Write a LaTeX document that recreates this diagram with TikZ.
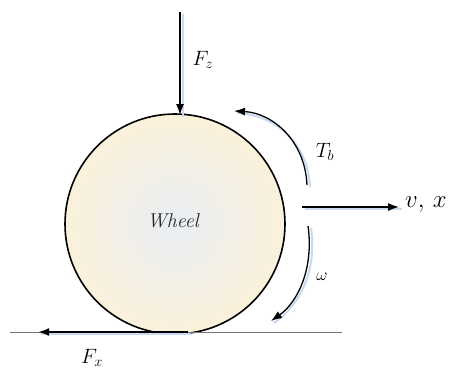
\documentclass[tikz,border=0pt]{standalone}
\usepackage{amsmath,amssymb}
\usepackage{xcolor}
\usetikzlibrary{arrows.meta,positioning}
\definecolor{wheelrim}{HTML}{FAF1DA}
\definecolor{wheelhub}{HTML}{E9EDF3}
\definecolor{glowblue}{HTML}{C9DAF0}
\definecolor{groundgray}{HTML}{777777}

\begin{document}
\begin{tikzpicture}[
  x=1pt,y=-1pt,
  wheelbody/.style={circle,draw,line width=1.6pt,minimum size=220pt,inner sep=0pt,
    inner color=wheelhub,outer color=wheelrim},
  force/.style={-{Latex[length=11pt,width=8pt]},line width=1.3pt,
    preaction={draw=glowblue,-,line width=2pt,transform canvas={shift={(3pt,-2pt)}}}},
  tag/.style={inner sep=1pt,font=\fontsize{21}{25}\selectfont}
]
\useasboundingbox (0,0) rectangle (451,370);
\node[wheelbody] (wheel) at (175,224) {};
\node[font=\fontsize{20}{23}\selectfont\itshape,text=black!85] (wname) at (173,221) {Wheel};
% ground and contact force
\coordinate (gl) at (10,332);
\coordinate (gr) at (342,332);
\draw[groundgray,line width=0.9pt] (gl)--(gr);
\coordinate (fxstart) at (188,332);
\coordinate (fxend) at (38,332);
\draw[force,line width=2.6pt] (fxstart)--(fxend);
\node[tag] (fx) at (92,358) {$F_x$};
% vertical load
\coordinate (fztop) at (180,12);
\coordinate (fzbot) at (180,115);
\draw[force] (fztop)--(fzbot);
\node[tag] (fz) at (203,60) {$F_z$};
% velocity
\coordinate (vstart) at (302,207);
\coordinate (vend) at (399,207);
\draw[force] (vstart)--(vend);
\node[font=\fontsize{30}{34}\selectfont,anchor=west,inner sep=1pt] (vx) at (404,205) {$v,\,x$};
% braking torque and wheel speed
\coordinate (tbstart) at (307,185);
\coordinate (tbend) at (234,111);
\draw[force] (tbstart) .. controls (305,140) and (272,113) .. (tbend);
\node[tag] (tb) at (325,152) {$T_b$};
\coordinate (wstart) at (308,226);
\coordinate (wend) at (271,321);
\draw[force] (wstart) .. controls (314,268) and (298,302) .. (wend);
\node[font=\fontsize{18}{21}\selectfont] (om) at (322,277) {$\omega$};
\end{tikzpicture}
\end{document}
